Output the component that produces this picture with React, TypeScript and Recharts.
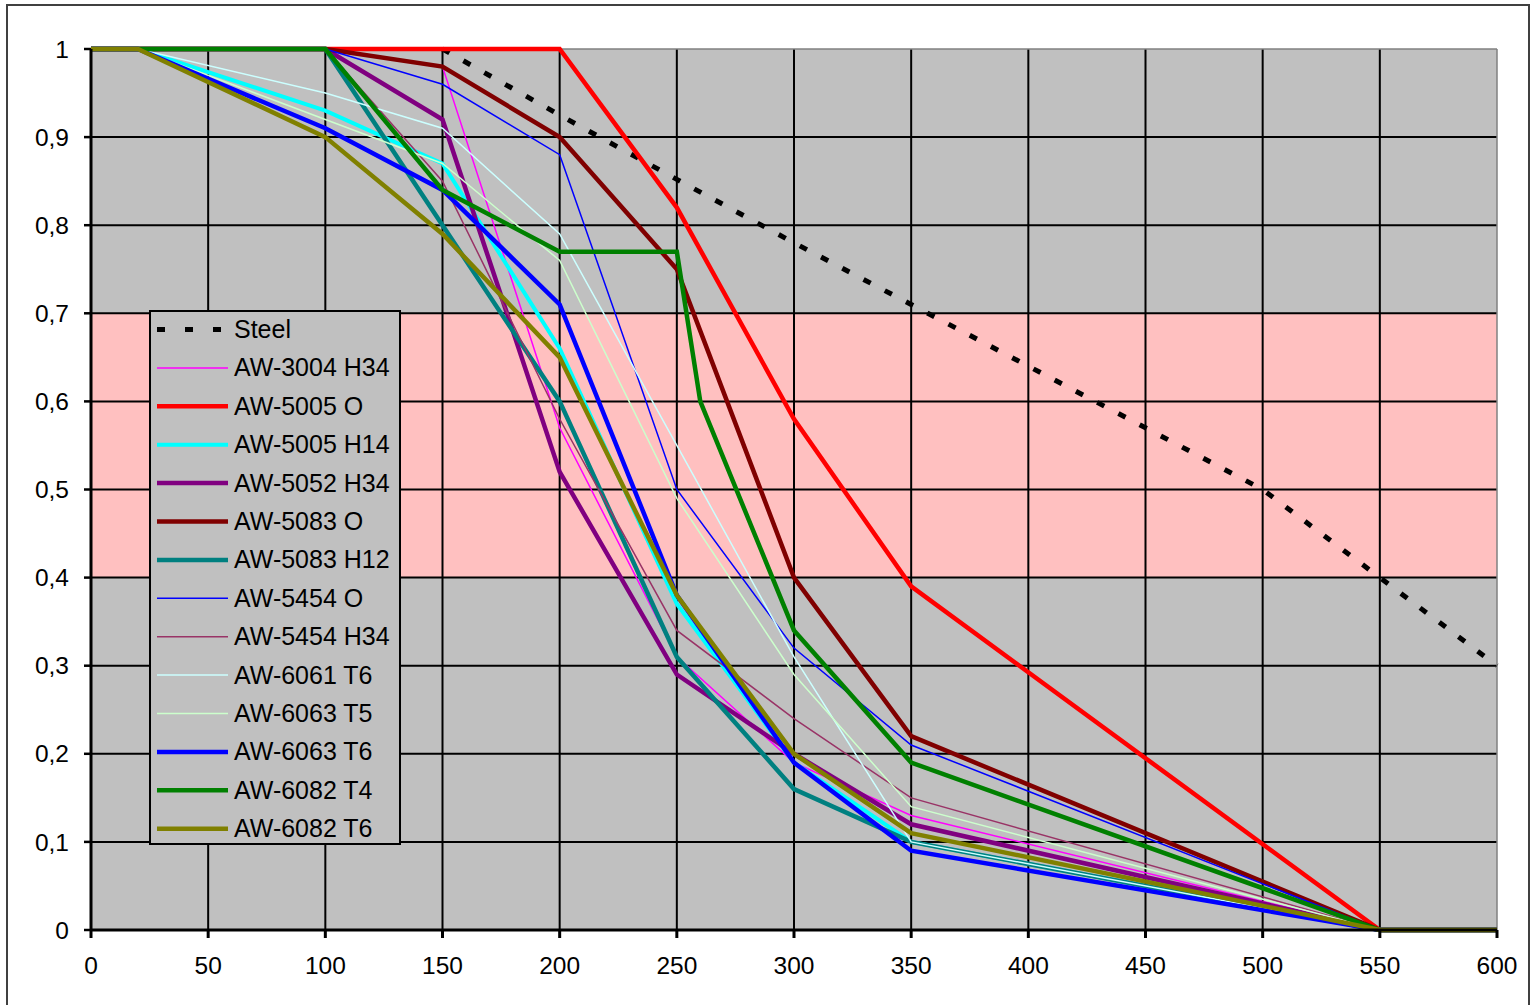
import React from 'react';
import { LineChart, Line, XAxis, YAxis, ReferenceArea, ReferenceLine } from 'recharts';

// ---- data ----
const temps = [0, 20, 100, 150, 200, 250, 300, 350, 550, 600];
const t4Temps = [0, 20, 100, 150, 200, 250, 260, 300, 350, 550, 600];
const steelTemps = [150, 200, 250, 300, 350, 400, 450, 500, 550, 600];

const steel = [1, 0.925, 0.852, 0.78, 0.71, 0.64, 0.57, 0.5, 0.4, 0.3];
const aw3004H34 = [1, 1, 1, 0.98, 0.57, 0.31, 0.19, 0.13, 0, 0];
const aw5005O = [1, 1, 1, 1, 1, 0.82, 0.58, 0.39, 0, 0];
const aw5005H14 = [1, 1, 0.93, 0.87, 0.66, 0.37, 0.19, 0.1, 0, 0];
const aw5052H34 = [1, 1, 1, 0.92, 0.52, 0.29, 0.2, 0.12, 0, 0];
const aw5083O = [1, 1, 1, 0.98, 0.9, 0.75, 0.4, 0.22, 0, 0];
const aw5083H12 = [1, 1, 1, 0.8, 0.6, 0.31, 0.16, 0.1, 0, 0];
const aw5454O = [1, 1, 1, 0.96, 0.88, 0.5, 0.32, 0.21, 0, 0];
const aw5454H34 = [1, 1, 1, 0.85, 0.58, 0.34, 0.24, 0.15, 0, 0];
const aw6061T6 = [1, 1, 0.95, 0.91, 0.79, 0.55, 0.31, 0.1, 0, 0];
const aw6063T5 = [1, 1, 0.92, 0.87, 0.76, 0.49, 0.29, 0.14, 0, 0];
const aw6063T6 = [1, 1, 0.91, 0.84, 0.71, 0.38, 0.19, 0.09, 0, 0];
const aw6082T4 = [1, 1, 1, 0.84, 0.77, 0.77, 0.6, 0.34, 0.19, 0, 0];
const aw6082T6 = [1, 1, 0.9, 0.79, 0.65, 0.38, 0.2, 0.11, 0, 0];

const xTicks = [0, 50, 100, 150, 200, 250, 300, 350, 400, 450, 500, 550, 600];
const yTicks = [0, 0.1, 0.2, 0.3, 0.4, 0.5, 0.6, 0.7, 0.8, 0.9, 1];
const xGrid = [50, 100, 150, 200, 250, 300, 350, 400, 450, 500, 550];
const yGrid = [0.1, 0.2, 0.3, 0.4, 0.5, 0.6, 0.7, 0.8, 0.9];

const THICK = 4.5;
const THIN = 1.5;

const series = [
  { name: 'Steel', xs: steelTemps, ys: steel, color: '#000000', width: 5, dash: '8 16' },
  { name: 'AW-3004 H34', xs: temps, ys: aw3004H34, color: '#ff00ff', width: THIN },
  { name: 'AW-5005 O', xs: temps, ys: aw5005O, color: '#ff0000', width: THICK },
  { name: 'AW-5005 H14', xs: temps, ys: aw5005H14, color: '#00ffff', width: 4 },
  { name: 'AW-5052 H34', xs: temps, ys: aw5052H34, color: '#800080', width: THICK },
  { name: 'AW-5083 O', xs: temps, ys: aw5083O, color: '#800000', width: THICK },
  { name: 'AW-5083 H12', xs: temps, ys: aw5083H12, color: '#008080', width: THICK },
  { name: 'AW-5454 O', xs: temps, ys: aw5454O, color: '#0000ff', width: THIN },
  { name: 'AW-5454 H34', xs: temps, ys: aw5454H34, color: '#993366', width: THIN },
  { name: 'AW-6061 T6', xs: temps, ys: aw6061T6, color: '#ccffff', width: THIN },
  { name: 'AW-6063 T5', xs: temps, ys: aw6063T5, color: '#ccffcc', width: THIN },
  { name: 'AW-6063 T6', xs: temps, ys: aw6063T6, color: '#0000ff', width: THICK },
  { name: 'AW-6082 T4', xs: t4Temps, ys: aw6082T4, color: '#008000', width: THICK },
  { name: 'AW-6082 T6', xs: temps, ys: aw6082T6, color: '#808000', width: THICK },
];

const FONT = '"Liberation Sans", Arial, sans-serif';

const fmtY = (v: number) => String(v).replace('.', ',');

function LegendBox() {
  const rowH = 38.4;
  return (
    <div
      style={{
        position: 'absolute',
        left: 149,
        top: 310,
        width: 252,
        height: 535,
        background: '#c0c0c0',
        border: '2px solid #000',
        boxSizing: 'border-box',
      }}
    >
      <svg width={248} height={531} style={{ display: 'block' }}>
        {series.map((s, i) => {
          const cy = 17.5 + i * rowH;
          return (
            <g key={s.name}>
              <line
                x1={6}
                x2={77}
                y1={cy}
                y2={cy}
                stroke={s.color}
                strokeWidth={s.dash ? 5 : s.width}
                strokeDasharray={s.dash ? '8 20' : undefined}
              />
              <text x={83} y={cy + 8.5} fontSize={25} fontFamily={FONT} fill="#000">
                {s.name}
              </text>
            </g>
          );
        })}
      </svg>
    </div>
  );
}

export default function App() {
  return (
    <div
      style={{
        position: 'absolute',
        left: 0,
        top: 0,
        width: 1531,
        height: 1005,
        background: '#fff',
        overflow: 'hidden',
      }}
    >
      <div
        style={{
          position: 'absolute',
          left: 6,
          top: 4,
          width: 1524,
          height: 1020,
          border: '2px solid #404040',
          boxSizing: 'border-box',
        }}
      />
      <div style={{ position: 'absolute', left: 0, top: 0 }}>
        <LineChart width={1531} height={1005} margin={{ top: 49, right: 34, left: 0, bottom: 0 }}>
          <XAxis
            dataKey="t"
            type="number"
            domain={[0, 600]}
            ticks={xTicks}
            interval={0}
            axisLine={{ stroke: '#000', strokeWidth: 3 }}
            tickLine={{ stroke: '#000', strokeWidth: 3 }}
            tickSize={8}
            tickMargin={19}
            height={75}
            tick={{ fontSize: 24.5, fill: '#000', fontFamily: FONT }}
          />
          <YAxis
            dataKey="v"
            type="number"
            domain={[0, 1]}
            ticks={yTicks}
            interval={0}
            width={91}
            tickFormatter={fmtY}
            axisLine={{ stroke: '#000', strokeWidth: 3 }}
            tickLine={{ stroke: '#000', strokeWidth: 2.5 }}
            tickSize={7}
            tickMargin={15}
            tick={{ fontSize: 24.5, fill: '#000', fontFamily: FONT }}
          />
          <ReferenceArea x1={0} x2={600} y1={0} y2={1} fill="#c0c0c0" fillOpacity={1} stroke="none" />
          <ReferenceArea x1={0} x2={600} y1={0.4} y2={0.7} fill="#ffc0c0" fillOpacity={1} stroke="none" />
          {xGrid.map((x) => (
            <ReferenceLine key={'gx' + x} x={x} stroke="#000" strokeWidth={2} />
          ))}
          {yGrid.map((y) => (
            <ReferenceLine key={'gy' + y} y={y} stroke="#000" strokeWidth={2} />
          ))}
          <ReferenceLine y={1} stroke="#808080" strokeWidth={1.5} />
          <ReferenceLine x={600} stroke="#808080" strokeWidth={1.5} />
          {series.map((s) => (
            <Line
              key={s.name}
              name={s.name}
              data={s.xs.map((t, i) => ({ t, v: s.ys[i] }))}
              dataKey="v"
              type="linear"
              stroke={s.color}
              strokeWidth={s.width}
              strokeDasharray={s.dash}
              dot={false}
              activeDot={false}
              isAnimationActive={false}
            />
          ))}
        </LineChart>
      </div>
      <LegendBox />
    </div>
  );
}
